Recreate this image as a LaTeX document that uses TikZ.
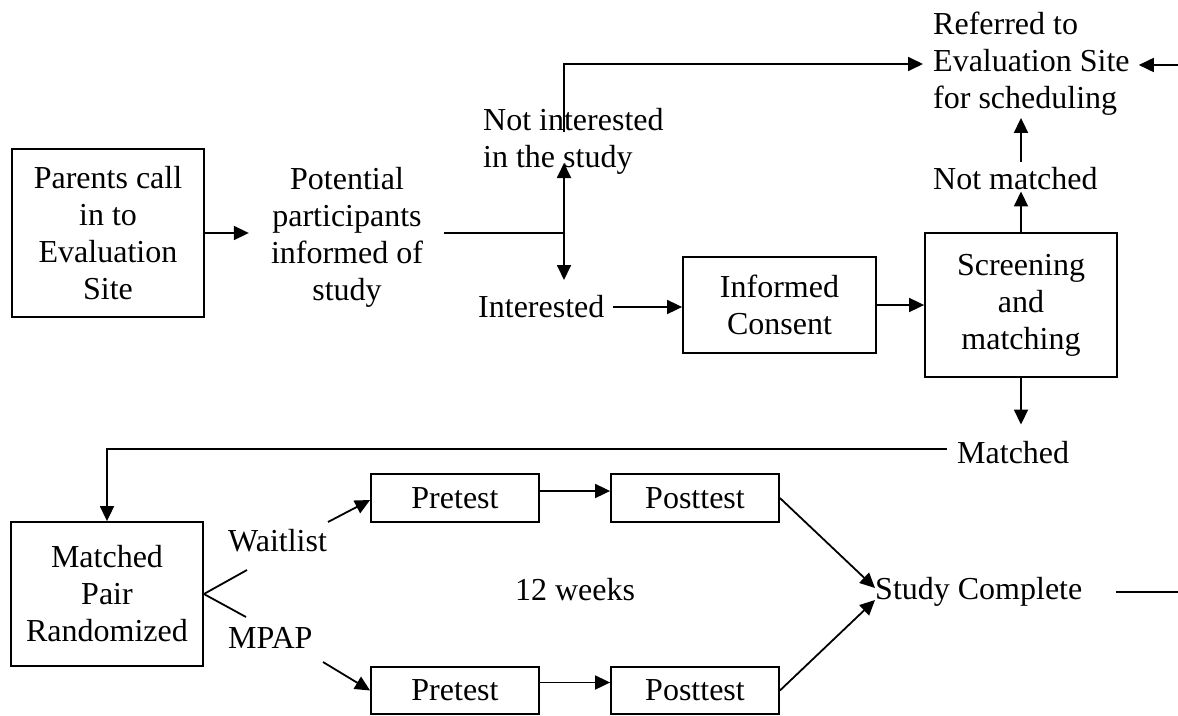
\documentclass[tikz,border=0pt]{standalone}
\usepackage{fontspec}
\setmainfont{Liberation Serif}
\usetikzlibrary{arrows.meta,calc}
\begin{document}
\begin{tikzpicture}[x=1pt,y=-1pt,
  every node/.style={font=\fontsize{32}{37}\selectfont, inner sep=0pt},
  box/.style={draw, line width=1.8pt, align=center},
  lbl/.style={align=left, anchor=west},
  conn/.style={line width=1.8pt},
  arr/.style={conn, -{Triangle[length=15pt,width=14pt]}}]
\useasboundingbox (0,0) rectangle (1178,715);
% nodes
\node[box, minimum width=192pt, minimum height=168pt] (parents) at (108,233) {Parents call\\in to\\Evaluation\\Site};
\node[align=center] (pot) at (347,237) {Potential\\participants\\informed of\\study};
\node[lbl] (notint) at (483,141) {Not interested\\in the study};
\node[lbl] (int) at (478,307) {Interested};
\node[box, minimum width=193pt, minimum height=96pt] (consent) at (779.5,305) {Informed\\Consent};
\node[box, minimum width=192pt, minimum height=144pt] (screen) at (1021,305) {Screening\\and\\matching};
\node[lbl] (notm) at (933,179) {Not matched};
\node[lbl] (ref) at (933,64) {Referred to\\Evaluation Site\\for scheduling};
\node[lbl] (matched) at (957,453) {Matched};
\node[box, minimum width=192pt, minimum height=144pt] (mpr) at (107,594) {Matched\\Pair\\Randomized};
\node[lbl] (wait) at (228,541) {Waitlist};
\node[lbl] (mpap) at (228,638) {MPAP};
\node[box, minimum width=168pt, minimum height=48pt] (pre1) at (455,498) {Pretest};
\node[box, minimum width=168pt, minimum height=48pt] (post1) at (695,498) {Posttest};
\node[box, minimum width=168pt, minimum height=47pt] (pre2) at (455,690.5) {Pretest};
\node[box, minimum width=168pt, minimum height=47pt] (post2) at (695,690.5) {Posttest};
\node (weeks) at (575,590) {12 weeks};
\node[lbl] (done) at (875,592) {Study Complete};
% coordinates
\coordinate (j) at (564,233);
\coordinate (jup) at (564,163);
\coordinate (jdn) at (564,280);
\coordinate (topstart) at (564,132);
\coordinate (redge) at (1178,65);
\coordinate (fa) at (247,570);
\coordinate (fb) at (246,617);
\coordinate (wa) at (328,522);
\coordinate (mb) at (323,662);
\coordinate (dend) at (1178,593);
% connectors
\draw[arr, shorten >=22pt] (parents.east) -- (parents.east -| pot.west);
\draw[conn, shorten <=21pt] (pot.east |- j) -- (j);
\draw[arr] (j) -- (jup);
\draw[arr] (j) -- (jdn);
\draw[arr, shorten >=10pt] (topstart) |- (ref.west);
\draw[arr, shorten >=9pt] (redge) -- (redge -| ref.east);
\draw[arr, shorten <=8pt] (int.east) -- (int.east -| consent.west);
\draw[arr] (consent.east) -- (screen.west);
\draw[arr, shorten >=1pt] (screen.north) -- (screen.north |- notm.south);
\draw[arr, shorten <=6pt, shorten >=2pt] (screen.north |- notm.north) -- (screen.north |- ref.south);
\draw[arr, shorten >=17pt] (screen.south) -- (screen.south |- matched.north);
\draw[arr] ([xshift=-10pt,yshift=4pt]matched.west) -| (mpr.north);
\draw[conn] (fa) -- (mpr.east) -- (fb);
\draw[arr] (wa) -- ([yshift=-2pt]pre1.west);
\draw[arr] (mb) -- (pre2.west);
\draw[arr] ([yshift=7pt]pre1.east) -- ([yshift=7pt]post1.west);
\draw[arr] ([yshift=8pt]pre2.east) -- ([yshift=8pt]post2.west);
\draw[arr] (post1.east) -- ([yshift=4pt]done.west);
\draw[arr] (post2.east) -- ([yshift=-8pt]done.west);
\draw[conn] ([xshift=33pt]done.east) -- (done.east -| dend);
\end{tikzpicture}
\end{document}
